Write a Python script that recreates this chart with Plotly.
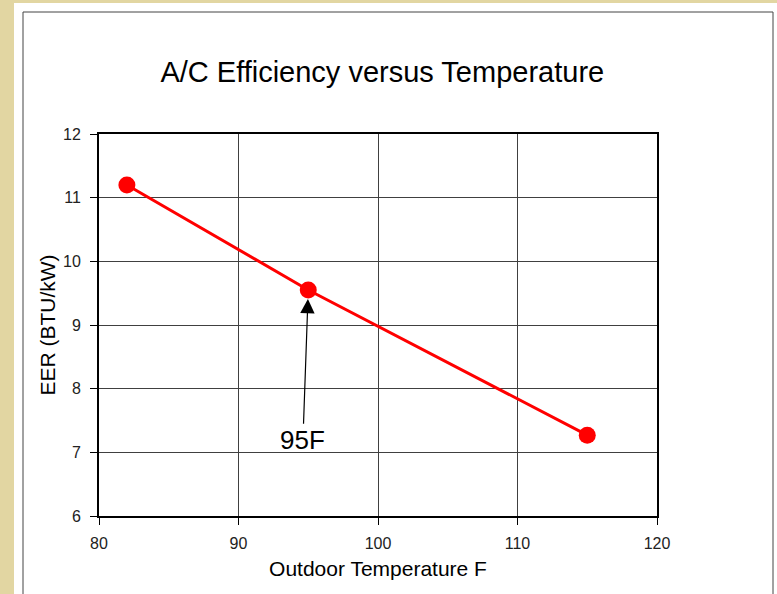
import plotly.graph_objects as go

temps = [82, 95, 115]
eer = [11.2, 9.55, 7.27]
x_ticks = [80, 90, 100, 110, 120]
y_ticks = [6, 7, 8, 9, 10, 11, 12]

W, H = 777, 594
L, R, T, B = 99, 120, 134, 78
pw, ph = W - L - R, H - T - B

def px(x):
    return (x - L) / pw

def py(y):
    return (H - B - y) / ph

fig = go.Figure()
fig.add_trace(go.Scatter(
    x=temps, y=eer, mode="lines+markers",
    line=dict(color="#ff0000", width=3),
    marker=dict(color="#ff0000", size=17),
    showlegend=False, hoverinfo="x+y",
))

font = "Liberation Sans, Arial, sans-serif"
axis_common = dict(
    showline=True, linecolor="black", linewidth=2, mirror=True,
    showgrid=True, gridcolor="#404040", gridwidth=1,
    ticks="outside", ticklen=7, tickcolor="black", tickwidth=1,
    zeroline=False,
    tickfont=dict(family=font, size=16, color="#222"),
)

fig.update_layout(
    width=W, height=H,
    margin=dict(l=L, r=R, t=T, b=B),
    paper_bgcolor="#e2d6a2",
    plot_bgcolor="white",
    title=dict(text="A/C Efficiency versus Temperature", x=0.492, xanchor="center",
               y=1 - 72 / H, yanchor="middle",
               font=dict(family=font, size=29, color="black")),
    xaxis=dict(range=[80, 120], tickvals=x_ticks, ticklabelstandoff=5,
               title=dict(text="Outdoor Temperature F", standoff=10,
                          font=dict(family=font, size=21, color="black")),
               **axis_common),
    yaxis=dict(range=[6, 12], tickvals=y_ticks, ticklabelstandoff=6,
               title=dict(text="EER (BTU/kW)", standoff=2,
                          font=dict(family=font, size=21, color="black")),
               **axis_common),
    shapes=[
        dict(type="rect", xref="paper", yref="paper", layer="below",
             x0=px(14), x1=px(W + 5), y0=py(H + 5), y1=py(3),
             fillcolor="white", line=dict(width=0)),
        dict(type="rect", xref="paper", yref="paper", layer="below",
             x0=px(23), x1=px(773), y0=py(H + 5), y1=py(12),
             fillcolor="white", line=dict(width=1, color="#444")),
    ],
    annotations=[
        dict(x=95, y=9.55, xref="x", yref="y", text="95F",
             ax=94.62, ay=7.19, axref="x", ayref="y",
             showarrow=True, arrowhead=2, arrowsize=2.4, arrowwidth=1.2,
             arrowcolor="black", standoff=9,
             font=dict(family=font, size=26, color="black")),
    ],
)

fig.write_html("out.html", config={"displayModeBar": False},
               post_script="document.body.style.margin='0';document.body.style.padding='0';")
